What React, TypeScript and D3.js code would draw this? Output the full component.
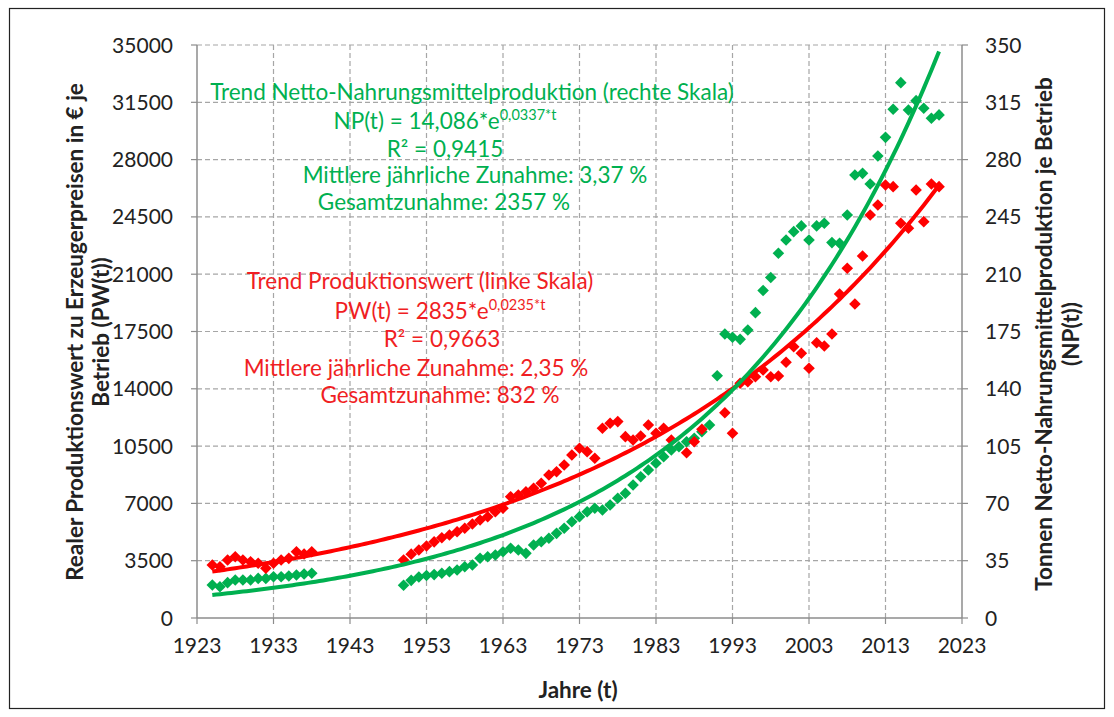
import React from "react";
import * as d3 from "d3";

// ---------- data ----------
const pwYears = [
  1925, 1926, 1927, 1928, 1929, 1930, 1931, 1932, 1933, 1934, 1935, 1936, 1937, 1938,
  1950, 1951, 1952, 1953, 1954, 1955, 1956, 1957, 1958, 1959, 1960, 1961, 1962, 1963,
  1964, 1965, 1966, 1967, 1968, 1969, 1970, 1971, 1972, 1973, 1974, 1975, 1976, 1977,
  1978, 1979, 1980, 1981, 1982, 1983, 1984, 1985, 1987, 1988, 1989, 1992, 1993, 1994,
  1995, 1996, 1997, 1998, 1999, 2000, 2001, 2002, 2003, 2004, 2005, 2006, 2007, 2008,
  2009, 2010, 2011, 2012, 2013, 2014, 2015, 2016, 2017, 2018, 2019, 2020,
];
const pwValues = [
  3237, 3135, 3543, 3745, 3543, 3440, 3341, 3035, 3341, 3543, 3645, 4050, 3910, 4050,
  3543, 3900, 4150, 4400, 4650, 4900, 5070, 5272, 5479, 5742, 5986, 6188, 6493, 6701,
  7410, 7513, 7715, 7922, 8228, 8735, 8937, 9346, 9957, 10366, 10160, 9755, 11587, 11893,
  11995, 11078, 10873, 11117, 11789, 11282, 11587, 10873, 10097, 10770, 11525, 12540, 11282, 14335,
  14436, 14740, 15148, 14740, 14782, 15619, 16572, 16169, 15253, 16817, 16614, 17348, 19791, 21359,
  19180, 22112, 24617, 25227, 26449, 26347, 24110, 23805, 26143, 24210, 26510, 26347,
];

const npYears = [
  1925, 1926, 1927, 1928, 1929, 1930, 1931, 1932, 1933, 1934, 1935, 1936, 1937, 1938,
  1950, 1951, 1952, 1953, 1954, 1955, 1956, 1957, 1958, 1959, 1960, 1961, 1962, 1963,
  1964, 1965, 1966, 1967, 1968, 1969, 1970, 1971, 1972, 1973, 1974, 1975, 1976, 1977,
  1978, 1979, 1980, 1981, 1982, 1983, 1984, 1985, 1986, 1987, 1988, 1989, 1990, 1991,
  1992, 1993, 1994, 1995, 1996, 1997, 1998, 1999, 2000, 2001, 2002, 2003, 2004, 2005,
  2006, 2007, 2008, 2009, 2010, 2011, 2012, 2013, 2014, 2015, 2016, 2017, 2018, 2019, 2020,
];
const npValues = [
  20.2, 19.1, 21.6, 23.2, 23.2, 23.2, 24.2, 24.2, 25.2, 25.2, 25.7, 26.3, 26.9, 27.3,
  20.0, 23.0, 25.0, 26.0, 26.5, 27.3, 28.3, 29.3, 31.3, 32.4, 36.5, 37.4, 38.5, 40.5,
  42.6, 41.5, 39.5, 44.6, 46.6, 48.7, 51.7, 54.8, 58.8, 61.9, 64.9, 67.0, 66.0, 69.0,
  73.1, 76.2, 81.2, 86.3, 90.4, 94.5, 98.5, 102.6, 104.6, 107.7, 109.8, 113.8, 117.9, 148.0,
  173.5, 171.5, 170.2, 175.9, 186.5, 200.0, 208.0, 222.8, 230.9, 236.0, 239.5, 230.9, 239.5, 241.1,
  229.3, 228.9, 246.2, 270.6, 271.6, 265.1, 282.2, 293.6, 310.8, 327.0, 310.3, 316.0, 311.4, 305.3, 307.3,
];

// trend parameters as printed on the chart (t = years since 1925)
const trendStart = 1925;
const trendEnd = 2020;
const pwTrend = { a: 2835, b: 0.0235 };
const npTrend = { a: 14.086, b: 0.0337 };

const xTicks = [1923, 1933, 1943, 1953, 1963, 1973, 1983, 1993, 2003, 2013, 2023];
const leftTicks = [0, 3500, 7000, 10500, 14000, 17500, 21000, 24500, 28000, 31500, 35000];
const rightTicks = [0, 35, 70, 105, 140, 175, 210, 245, 280, 315, 350];

const greenNotes = [
  "Trend Netto-Nahrungsmittelproduktion (rechte Skala)",
  "NP(t) = 14,086*e",
  "R² = 0,9415",
  "Mittlere jährliche Zunahme: 3,37 %",
  "Gesamtzunahme: 2357 %",
];
const greenExp = "0,0337*t";
const redNotes = [
  "Trend Produktionswert (linke Skala)",
  "PW(t) = 2835*e",
  "R² = 0,9663",
  "Mittlere jährliche Zunahme: 2,35 %",
  "Gesamtzunahme: 832 %",
];
const redExp = "0,0235*t";

// ---------- layout ----------
const W = 1114;
const H = 717;
const L = 197, R = 962, T = 45, B = 618;
const RED = "#FF0000";
const GREEN = "#00B050";
const AXIS = "#8C8C8C";
const GRID = "#A6A6A6";
const FONT = "Lato, 'Open Sans', sans-serif";

export default function App() {
  const x = d3.scaleLinear().domain([1923, 2023]).range([L, R]);
  const yL = d3.scaleLinear().domain([0, 35000]).range([B, T]);
  const yR = d3.scaleLinear().domain([0, 350]).range([B, T]);

  const tr = d3.range(trendStart, trendEnd + 0.001, 0.5);
  const pwLine = d3
    .line<number>()
    .x((d) => x(d))
    .y((d) => yL(pwTrend.a * Math.exp(pwTrend.b * (d - trendStart))))(tr);
  const npLine = d3
    .line<number>()
    .x((d) => x(d))
    .y((d) => yR(npTrend.a * Math.exp(npTrend.b * (d - trendStart))))(tr);

  const diamond = (cx: number, cy: number, r = 5.8) =>
    `M${cx},${cy - r}L${cx + r},${cy}L${cx},${cy + r}L${cx - r},${cy}Z`;

  const noteSize = 22.5;
  const greenY = [100, 129, 157, 183, 210];
  const greenX = [472, 445, 445, 475, 444];
  const redY = [289, 319, 347, 376, 403];
  const redX = [420, 440, 442, 416, 440];

  const renderNotes = (lines: string[], exp: string, xs: number[], ys: number[], color: string) =>
    lines.map((s, i) => (
      <text
        key={i}
        x={xs[i]}
        y={ys[i]}
        textAnchor="middle"
        fill={color}
        fontSize={noteSize}
        fontFamily={FONT}
      >
        {s}
        {i === 1 ? (
          <tspan fontSize={14.5} dy={-9}>
            {exp}
          </tspan>
        ) : null}
      </text>
    ));

  const titleSize = 22.5;

  return (
    <svg
      width={W}
      height={H}
      style={{ position: "absolute", left: 0, top: 0, background: "#fff" }}
    >
      <rect x={0} y={0} width={W} height={H} fill="#fff" />
      <rect x={9.5} y={8.5} width={1095} height={700} fill="none" stroke="#222" strokeWidth={1.2} />

      {/* grid */}
      {leftTicks.slice(1).map((v) => (
        <line key={"gh" + v} x1={L} x2={R} y1={yL(v)} y2={yL(v)} stroke={GRID} strokeWidth={1.2} strokeDasharray="5,3" />
      ))}
      {xTicks.slice(1, -1).map((v) => (
        <line key={"gv" + v} x1={x(v)} x2={x(v)} y1={T} y2={B} stroke={GRID} strokeWidth={1.2} strokeDasharray="5,3" />
      ))}

      {/* axes */}
      <line x1={L} x2={L} y1={T} y2={B} stroke={AXIS} strokeWidth={1.5} />
      <line x1={R} x2={R} y1={T} y2={B} stroke={AXIS} strokeWidth={1.5} />
      <line x1={L} x2={R} y1={B} y2={B} stroke={AXIS} strokeWidth={1.5} />
      {leftTicks.map((v) => (
        <line key={"lt" + v} x1={L - 6} x2={L} y1={yL(v)} y2={yL(v)} stroke={AXIS} strokeWidth={1.2} />
      ))}
      {rightTicks.map((v) => (
        <line key={"rt" + v} x1={R} x2={R + 6} y1={yR(v)} y2={yR(v)} stroke={AXIS} strokeWidth={1.2} />
      ))}
      {xTicks.map((v) => (
        <line key={"bt" + v} x1={x(v)} x2={x(v)} y1={B} y2={B + 6} stroke={AXIS} strokeWidth={1.2} />
      ))}

      {/* tick labels */}
      {leftTicks.map((v) => (
        <text key={"ll" + v} x={173} y={yL(v)} dy="0.36em" textAnchor="end" fontSize={21} fontFamily={FONT} fill="#222">
          {v}
        </text>
      ))}
      {rightTicks.map((v) => (
        <text key={"rl" + v} x={985} y={yR(v)} dy="0.36em" textAnchor="start" fontSize={21} fontFamily={FONT} fill="#222">
          {v}
        </text>
      ))}
      {xTicks.map((v) => (
        <text key={"xl" + v} x={x(v)} y={653} textAnchor="middle" fontSize={21} fontFamily={FONT} fill="#222">
          {v}
        </text>
      ))}

      {/* axis titles */}
      <text x={578} y={698} textAnchor="middle" fontSize={titleSize} fontWeight="bold" fontFamily={FONT} fill="#222">
        Jahre (t)
      </text>
      <g transform="translate(83,332) rotate(-90)">
        <text x={0} y={0} textAnchor="middle" fontSize={titleSize} fontWeight="bold" fontFamily={FONT} fill="#222">
          Realer Produktionswert  zu Erzeugerpreisen in € je
        </text>
        <text x={0} y={26} textAnchor="middle" fontSize={titleSize} fontWeight="bold" fontFamily={FONT} fill="#222">
          Betrieb (PW(t))
        </text>
      </g>
      <g transform="translate(1052,334) rotate(-90)">
        <text x={0} y={0} textAnchor="middle" fontSize={titleSize} fontWeight="bold" fontFamily={FONT} fill="#222">
          Tonnen Netto-Nahrungsmittelproduktion je Betrieb
        </text>
        <text x={0} y={27} textAnchor="middle" fontSize={titleSize} fontWeight="bold" fontFamily={FONT} fill="#222">
          (NP(t))
        </text>
      </g>

      {/* markers */}
      {npYears.map((yr, i) => (
        <path key={"np" + yr} d={diamond(x(yr), yR(npValues[i]))} fill={GREEN} />
      ))}
      {pwYears.map((yr, i) => (
        <path key={"pw" + yr} d={diamond(x(yr), yL(pwValues[i]))} fill={RED} />
      ))}

      {/* trend lines */}
      <path d={pwLine ?? ""} fill="none" stroke={RED} strokeWidth={4} />
      <path d={npLine ?? ""} fill="none" stroke={GREEN} strokeWidth={4} />

      {/* annotations */}
      {renderNotes(greenNotes, greenExp, greenX, greenY, GREEN)}
      {renderNotes(redNotes, redExp, redX, redY, "#F01E23")}
    </svg>
  );
}
